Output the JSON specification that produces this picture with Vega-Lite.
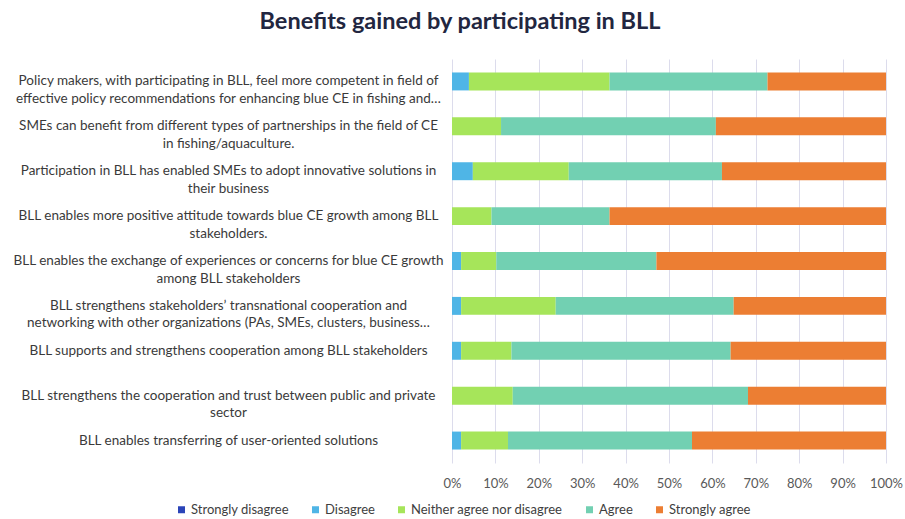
{
  "$schema": "https://vega.github.io/schema/vega-lite/v6.json",
  "autosize": "none",
  "width": 434,
  "height": 404,
  "padding": {"left": 452, "top": 59, "right": 19, "bottom": 56},
  "background": "white",
  "title": {
    "text": "Benefits gained by participating in BLL",
    "font": "Lato",
    "fontSize": 23.5,
    "fontWeight": "bold",
    "color": "#222640",
    "anchor": "middle",
    "frame": "group",
    "dx": -209,
    "baseline": "alphabetic",
    "offset": 7
  },
  "data": {
    "values": [
      {"q": "Policy makers, with participating in BLL, feel more competent in field of|effective policy recommendations for enhancing blue CE in fishing and…", "response": "Strongly disagree", "value": 0},
      {"q": "Policy makers, with participating in BLL, feel more competent in field of|effective policy recommendations for enhancing blue CE in fishing and…", "response": "Disagree", "value": 3.9},
      {"q": "Policy makers, with participating in BLL, feel more competent in field of|effective policy recommendations for enhancing blue CE in fishing and…", "response": "Neither agree nor disagree", "value": 32.4},
      {"q": "Policy makers, with participating in BLL, feel more competent in field of|effective policy recommendations for enhancing blue CE in fishing and…", "response": "Agree", "value": 36.4},
      {"q": "Policy makers, with participating in BLL, feel more competent in field of|effective policy recommendations for enhancing blue CE in fishing and…", "response": "Strongly agree", "value": 27.3},

      {"q": "SMEs can benefit from different types of partnerships in the field of CE|in fishing/aquaculture.", "response": "Strongly disagree", "value": 0},
      {"q": "SMEs can benefit from different types of partnerships in the field of CE|in fishing/aquaculture.", "response": "Disagree", "value": 0},
      {"q": "SMEs can benefit from different types of partnerships in the field of CE|in fishing/aquaculture.", "response": "Neither agree nor disagree", "value": 11.3},
      {"q": "SMEs can benefit from different types of partnerships in the field of CE|in fishing/aquaculture.", "response": "Agree", "value": 49.5},
      {"q": "SMEs can benefit from different types of partnerships in the field of CE|in fishing/aquaculture.", "response": "Strongly agree", "value": 39.2},

      {"q": "Participation in BLL has enabled SMEs to adopt innovative solutions in|their business", "response": "Strongly disagree", "value": 0},
      {"q": "Participation in BLL has enabled SMEs to adopt innovative solutions in|their business", "response": "Disagree", "value": 4.8},
      {"q": "Participation in BLL has enabled SMEs to adopt innovative solutions in|their business", "response": "Neither agree nor disagree", "value": 22.1},
      {"q": "Participation in BLL has enabled SMEs to adopt innovative solutions in|their business", "response": "Agree", "value": 35.3},
      {"q": "Participation in BLL has enabled SMEs to adopt innovative solutions in|their business", "response": "Strongly agree", "value": 37.8},

      {"q": "BLL enables more positive attitude towards blue CE growth among BLL|stakeholders.", "response": "Strongly disagree", "value": 0},
      {"q": "BLL enables more positive attitude towards blue CE growth among BLL|stakeholders.", "response": "Disagree", "value": 0},
      {"q": "BLL enables more positive attitude towards blue CE growth among BLL|stakeholders.", "response": "Neither agree nor disagree", "value": 9.1},
      {"q": "BLL enables more positive attitude towards blue CE growth among BLL|stakeholders.", "response": "Agree", "value": 27.2},
      {"q": "BLL enables more positive attitude towards blue CE growth among BLL|stakeholders.", "response": "Strongly agree", "value": 63.7},

      {"q": "BLL enables the exchange of experiences or concerns for blue CE growth|among BLL stakeholders", "response": "Strongly disagree", "value": 0},
      {"q": "BLL enables the exchange of experiences or concerns for blue CE growth|among BLL stakeholders", "response": "Disagree", "value": 2.1},
      {"q": "BLL enables the exchange of experiences or concerns for blue CE growth|among BLL stakeholders", "response": "Neither agree nor disagree", "value": 8.1},
      {"q": "BLL enables the exchange of experiences or concerns for blue CE growth|among BLL stakeholders", "response": "Agree", "value": 36.9},
      {"q": "BLL enables the exchange of experiences or concerns for blue CE growth|among BLL stakeholders", "response": "Strongly agree", "value": 52.9},

      {"q": "BLL strengthens stakeholders’ transnational cooperation and|networking with other organizations (PAs, SMEs, clusters, business…", "response": "Strongly disagree", "value": 0},
      {"q": "BLL strengthens stakeholders’ transnational cooperation and|networking with other organizations (PAs, SMEs, clusters, business…", "response": "Disagree", "value": 2.1},
      {"q": "BLL strengthens stakeholders’ transnational cooperation and|networking with other organizations (PAs, SMEs, clusters, business…", "response": "Neither agree nor disagree", "value": 21.8},
      {"q": "BLL strengthens stakeholders’ transnational cooperation and|networking with other organizations (PAs, SMEs, clusters, business…", "response": "Agree", "value": 41.0},
      {"q": "BLL strengthens stakeholders’ transnational cooperation and|networking with other organizations (PAs, SMEs, clusters, business…", "response": "Strongly agree", "value": 35.1},

      {"q": "BLL supports and strengthens cooperation among BLL stakeholders", "response": "Strongly disagree", "value": 0},
      {"q": "BLL supports and strengthens cooperation among BLL stakeholders", "response": "Disagree", "value": 2.1},
      {"q": "BLL supports and strengthens cooperation among BLL stakeholders", "response": "Neither agree nor disagree", "value": 11.6},
      {"q": "BLL supports and strengthens cooperation among BLL stakeholders", "response": "Agree", "value": 50.5},
      {"q": "BLL supports and strengthens cooperation among BLL stakeholders", "response": "Strongly agree", "value": 35.8},

      {"q": "BLL strengthens the cooperation and trust between public and private|sector", "response": "Strongly disagree", "value": 0},
      {"q": "BLL strengthens the cooperation and trust between public and private|sector", "response": "Disagree", "value": 0},
      {"q": "BLL strengthens the cooperation and trust between public and private|sector", "response": "Neither agree nor disagree", "value": 14.0},
      {"q": "BLL strengthens the cooperation and trust between public and private|sector", "response": "Agree", "value": 54.2},
      {"q": "BLL strengthens the cooperation and trust between public and private|sector", "response": "Strongly agree", "value": 31.8},

      {"q": "BLL enables transferring of user-oriented solutions", "response": "Strongly disagree", "value": 0},
      {"q": "BLL enables transferring of user-oriented solutions", "response": "Disagree", "value": 2.1},
      {"q": "BLL enables transferring of user-oriented solutions", "response": "Neither agree nor disagree", "value": 10.8},
      {"q": "BLL enables transferring of user-oriented solutions", "response": "Agree", "value": 42.4},
      {"q": "BLL enables transferring of user-oriented solutions", "response": "Strongly agree", "value": 44.7}
    ]
  },
  "transform": [
    {"calculate": "indexof(['Strongly disagree','Disagree','Neither agree nor disagree','Agree','Strongly agree'], datum.response)", "as": "ord"}
  ],
  "mark": {"type": "bar"},
  "encoding": {
    "y": {
      "field": "q",
      "type": "nominal",
      "sort": null,
      "scale": {"paddingInner": 0.6, "paddingOuter": 0.3},
      "axis": {
        "title": null,
        "domain": false,
        "ticks": false,
        "labelExpr": "split(datum.label, '|')",
        "labelAlign": "center",
        "labelPadding": 224,
        "labelLimit": 600,
        "labelFont": "Lato",
        "labelFontSize": 13.5,
        "labelLineHeight": 17.5,
        "labelColor": "#3a3a3a"
      }
    },
    "x": {
      "field": "value",
      "type": "quantitative",
      "stack": "normalize",
      "scale": {"domain": [0, 1], "nice": false},
      "axis": {
        "title": null,
        "format": "%",
        "values": [0, 0.1, 0.2, 0.3, 0.4, 0.5, 0.6, 0.7, 0.8, 0.9, 1],
        "domain": false,
        "ticks": false,
        "grid": true,
        "gridColor": "#dcdcec",
        "gridWidth": 1,
        "labelFlush": false,
        "labelPadding": 14,
        "labelFont": "Lato",
        "labelFontSize": 13,
        "labelColor": "#595959"
      }
    },
    "color": {
      "field": "response",
      "type": "nominal",
      "scale": {
        "domain": ["Strongly disagree", "Disagree", "Neither agree nor disagree", "Agree", "Strongly agree"],
        "range": ["#2b44b8", "#4fb5e6", "#a6e55a", "#72d0b2", "#ec7e33"]
      },
      "legend": {
        "title": null,
        "orient": "none",
        "direction": "horizontal",
        "legendX": -277,
        "legendY": 444,
        "symbolType": "square",
        "symbolSize": 49,
        "symbolStrokeWidth": 0,
        "labelOffset": 3,
        "columnPadding": 20,
        "labelFont": "Lato",
        "labelFontSize": 13,
        "labelColor": "#404040",
        "labelLimit": 300
      }
    },
    "order": {"field": "ord", "type": "quantitative"}
  },
  "config": {"view": {"stroke": null}}
}
